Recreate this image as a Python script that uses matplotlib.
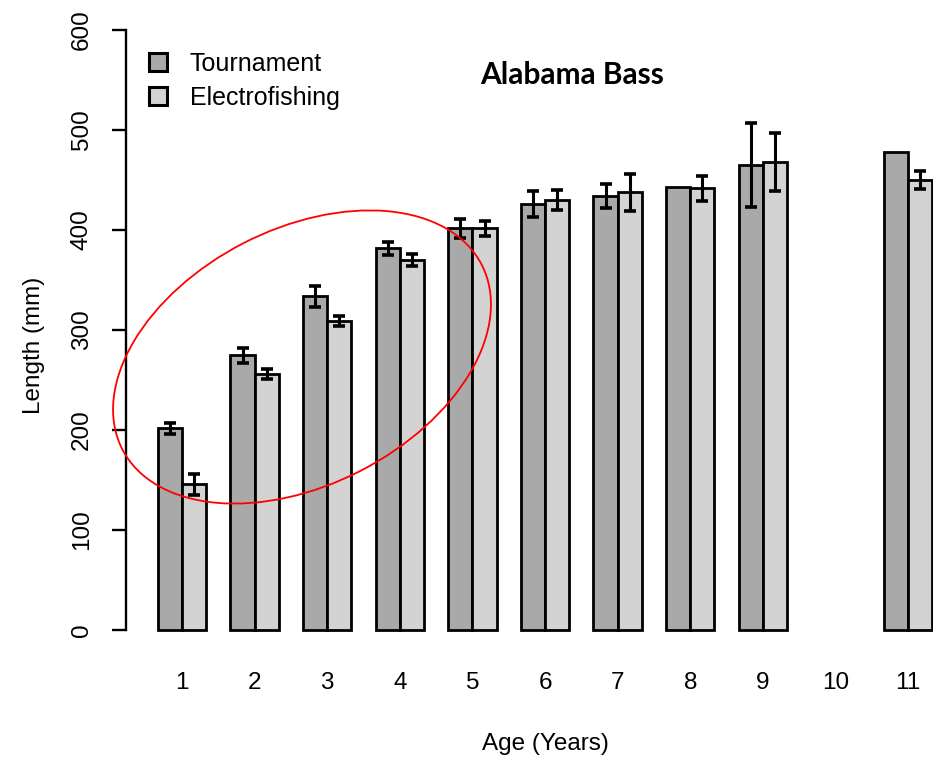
import numpy as np
import matplotlib
matplotlib.use("Agg")
import matplotlib.pyplot as plt
from matplotlib.patches import Ellipse

plt.rcParams['font.family'] = ['Liberation Sans', 'DejaVu Sans']

# ---- data ----
ages = [1, 2, 3, 4, 5, 6, 7, 8, 9, 10, 11]
age_labels = ["1", "2", "3", "4", "5", "6", "7", "8", "9", "10", "11"]
tournament = [202, 275, 334, 382, 402, 426, 434, 443, 465, np.nan, 478]
tournament_err = [5.5, 7.5, 10.5, 6.5, 9.5, 13, 12, 0, 42, np.nan, 0]
electro = [146, 256, 309, 370, 402, 430, 438, 442, 468, np.nan, 450]
electro_err = [10.5, 5, 5, 6, 7.5, 10, 18.5, 12.5, 29, np.nan, 9]
series_names = ["Tournament", "Electrofishing"]
title = "Alabama Bass"

W, H = 933, 759
fig = plt.figure(figsize=(W / 100, H / 100), dpi=100)
# axes: left at 126 px, right at 933 px; y 0 at 630 px, 600 at 30 px
ax = fig.add_axes([126 / W, (H - 636) / H, (933 - 126) / W, 612 / H])
ax.set_xlim(1 - 56 / 72.6, 11 + 25 / 72.6)
ax.set_ylim(-6, 606)

bw = 1 / 3
x = np.array(ages, dtype=float)
t = np.array(tournament, dtype=float)
e = np.array(electro, dtype=float)
te = np.array(tournament_err, dtype=float)
ee = np.array(electro_err, dtype=float)

mt = ~np.isnan(t)
me = ~np.isnan(e)
ax.bar(x[mt] - bw / 2, t[mt], width=bw, color="#a9a9a9", edgecolor="black",
       linewidth=2.0, label=series_names[0], zorder=2)
ax.bar(x[me] + bw / 2, e[me], width=bw, color="#d3d3d3", edgecolor="black",
       linewidth=2.0, label=series_names[1], zorder=2)

mte = mt & (np.nan_to_num(te) > 0)
mee = me & (np.nan_to_num(ee) > 0)
ax.errorbar(x[mte] - bw / 2, t[mte], yerr=te[mte], fmt="none", ecolor="black",
            elinewidth=2.2, capsize=4.6, capthick=2.6, zorder=3)
ax.errorbar(x[mee] + bw / 2, e[mee], yerr=ee[mee], fmt="none", ecolor="black",
            elinewidth=2.2, capsize=4.6, capthick=2.6, zorder=3)

# axes styling (R base look)
for s in ["top", "right", "bottom"]:
    ax.spines[s].set_visible(False)
ax.spines["left"].set_bounds(0, 600)
ax.spines["left"].set_linewidth(1.7)
ax.set_yticks([0, 100, 200, 300, 400, 500, 600])
ax.tick_params(axis="y", length=10, width=1.7, pad=14, labelsize=17.5,
               labelrotation=90, colors="black")
for lab in ax.get_yticklabels():
    lab.set_va("center")
ax.set_xticks(ages)
ax.set_xticklabels(age_labels)
ax.tick_params(axis="x", length=0, pad=26, labelsize=17.5)

ax.set_xlabel("Age (Years)", fontsize=17.5)
ax.xaxis.set_label_coords((545 - 126) / 807, -(733 - 636) / 612)
ax.set_ylabel("Length (mm)", fontsize=17.5)
ax.yaxis.set_label_coords((45 - 126) / 807, (636 - 345) / 612)

leg = ax.legend(loc="upper left", bbox_to_anchor=((149 - 126) / 807, (636 - 52) / 612),
                frameon=False, fontsize=18, handlelength=0.72, handleheight=0.72,
                handletextpad=0.92, labelspacing=0.38, borderpad=0, borderaxespad=0)
for h in leg.legend_handles:
    h.set_linewidth(2.2)

fig.text(572 / W, 1 - 75 / H, title, fontsize=21.5, fontweight="bold",
         family=["Lato", "DejaVu Sans"], ha="center", va="center")

# red annotation ellipse (pixel-based geometry)
ell = Ellipse(xy=(302 / 100, (H - 357) / 100), width=4.04, height=2.56, angle=27.2,
              transform=fig.dpi_scale_trans, fill=False, edgecolor="red",
              linewidth=1.3, zorder=5)
fig.add_artist(ell)

fig.savefig("out.png", dpi=100)
